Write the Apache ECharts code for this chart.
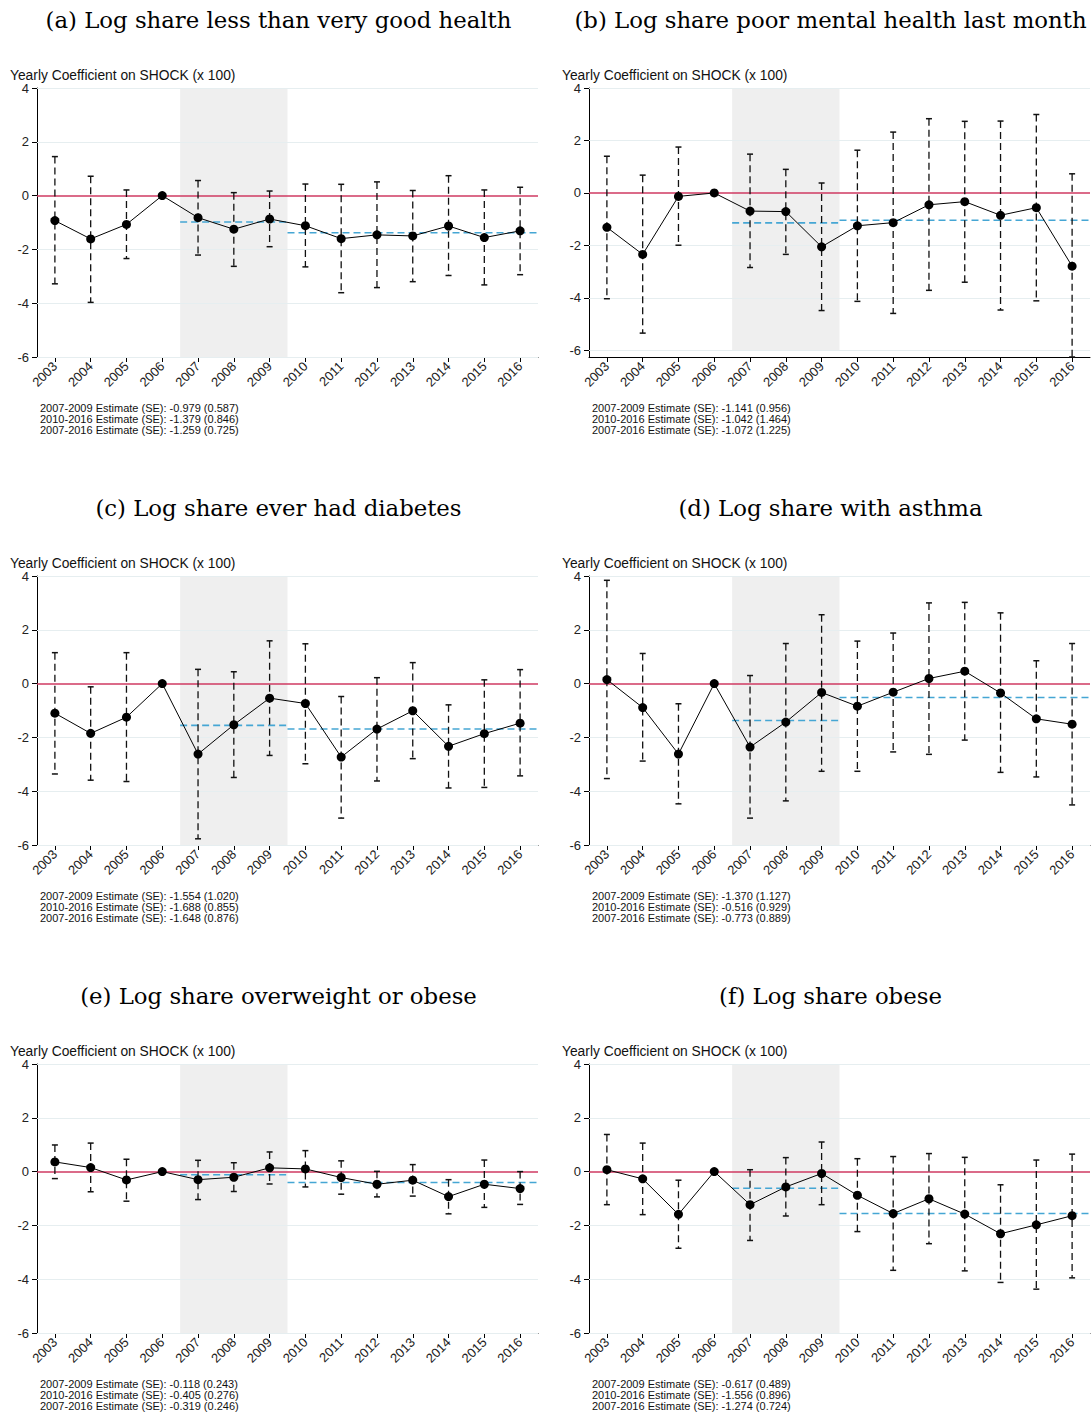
<!DOCTYPE html>
<html>
<head>
<meta charset="utf-8">
<script src="https://cdn.jsdelivr.net/npm/echarts@6/dist/echarts.min.js"></script>
<style>
  html, body { margin: 0; padding: 0; background: #fff; }
  #main { width: 1092px; height: 1427px; }
</style>
</head>
<body>
<div id="main"></div>
<script>
// years on the x axis
var years = [2003, 2004, 2005, 2006, 2007, 2008, 2009, 2010, 2011, 2012, 2013, 2014, 2015, 2016];
var yTicks = [-6, -4, -2, 0, 2, 4];

// (a) less than very good health
var coefA = [-0.93, -1.61, -1.07, 0, -0.82, -1.25, -0.87, -1.12, -1.60, -1.46, -1.50, -1.13, -1.56, -1.31];
var lowA  = [-3.28, -3.97, -2.34, null, -2.21, -2.63, -1.90, -2.65, -3.61, -3.42, -3.20, -2.97, -3.32, -2.94];
var highA = [1.45, 0.72, 0.21, null, 0.56, 0.11, 0.17, 0.43, 0.42, 0.51, 0.19, 0.74, 0.21, 0.31];
var periodA = [-0.979, -1.379];
var notesA = ['2007-2009 Estimate (SE): -0.979 (0.587)', '2010-2016 Estimate (SE): -1.379 (0.846)', '2007-2016 Estimate (SE): -1.259 (0.725)'];

// (b) poor mental health
var coefB = [-1.31, -2.34, -0.13, 0, -0.69, -0.71, -2.05, -1.25, -1.13, -0.45, -0.33, -0.85, -0.56, -2.79];
var lowB  = [-4.03, -5.34, -1.99, null, -2.84, -2.34, -4.48, -4.13, -4.59, -3.71, -3.40, -4.46, -4.11, -6.25];
var highB = [1.40, 0.68, 1.75, null, 1.48, 0.90, 0.38, 1.63, 2.32, 2.83, 2.73, 2.74, 2.99, 0.73];
var periodB = [-1.141, -1.042];
var notesB = ['2007-2009 Estimate (SE): -1.141 (0.956)', '2010-2016 Estimate (SE): -1.042 (1.464)', '2007-2016 Estimate (SE): -1.072 (1.225)'];

// (c) ever had diabetes
var coefC = [-1.10, -1.85, -1.25, 0, -2.62, -1.53, -0.54, -0.74, -2.73, -1.69, -1.01, -2.33, -1.86, -1.47];
var lowC  = [-3.36, -3.59, -3.64, null, -5.77, -3.49, -2.67, -2.98, -5.00, -3.62, -2.79, -3.88, -3.86, -3.43];
var highC = [1.15, -0.12, 1.15, null, 0.53, 0.44, 1.59, 1.48, -0.48, 0.22, 0.78, -0.79, 0.14, 0.52];
var periodC = [-1.554, -1.688];
var notesC = ['2007-2009 Estimate (SE): -1.554 (1.020)', '2010-2016 Estimate (SE): -1.688 (0.855)', '2007-2016 Estimate (SE): -1.648 (0.876)'];

// (d) asthma
var coefD = [0.15, -0.89, -2.62, 0, -2.36, -1.43, -0.33, -0.84, -0.32, 0.19, 0.46, -0.35, -1.31, -1.51];
var lowD  = [-3.53, -2.88, -4.47, null, -5.00, -4.36, -3.26, -3.26, -2.54, -2.63, -2.10, -3.30, -3.47, -4.51];
var highD = [3.84, 1.12, -0.75, null, 0.30, 1.49, 2.56, 1.58, 1.88, 3.00, 3.02, 2.63, 0.85, 1.49];
var periodD = [-1.370, -0.516];
var notesD = ['2007-2009 Estimate (SE): -1.370 (1.127)', '2010-2016 Estimate (SE): -0.516 (0.929)', '2007-2016 Estimate (SE): -0.773 (0.889)'];

// (e) overweight or obese
var coefE = [0.36, 0.15, -0.31, 0, -0.30, -0.21, 0.14, 0.10, -0.22, -0.47, -0.32, -0.93, -0.47, -0.63];
var lowE  = [-0.26, -0.75, -1.10, null, -1.04, -0.74, -0.46, -0.57, -0.84, -0.94, -0.91, -1.57, -1.33, -1.22];
var highE = [0.99, 1.06, 0.46, null, 0.42, 0.33, 0.73, 0.78, 0.40, 0.01, 0.26, -0.30, 0.43, 0.00];
var periodE = [-0.118, -0.405];
var notesE = ['2007-2009 Estimate (SE): -0.118 (0.243)', '2010-2016 Estimate (SE): -0.405 (0.276)', '2007-2016 Estimate (SE): -0.319 (0.246)'];

// (f) obese
var coefF = [0.07, -0.27, -1.59, 0, -1.23, -0.57, -0.07, -0.88, -1.56, -1.01, -1.58, -2.31, -1.98, -1.64];
var lowF  = [-1.23, -1.60, -2.85, null, -2.56, -1.65, -1.23, -2.23, -3.67, -2.68, -3.69, -4.12, -4.37, -3.95];
var highF = [1.38, 1.06, -0.32, null, 0.07, 0.52, 1.10, 0.48, 0.56, 0.67, 0.53, -0.49, 0.43, 0.65];
var periodF = [-0.617, -1.556];
var notesF = ['2007-2009 Estimate (SE): -0.617 (0.489)', '2010-2016 Estimate (SE): -1.556 (0.896)', '2007-2016 Estimate (SE): -1.274 (0.724)'];

var panels = [
  { title: '(a) Log share less than very good health', coef: coefA, low: lowA, high: highA, period: periodA, notes: notesA, ymin: -6 },
  { title: '(b) Log share poor mental health last month', coef: coefB, low: lowB, high: highB, period: periodB, notes: notesB, ymin: -6.25 },
  { title: '(c) Log share ever had diabetes', coef: coefC, low: lowC, high: highC, period: periodC, notes: notesC, ymin: -6 },
  { title: '(d) Log share with asthma', coef: coefD, low: lowD, high: highD, period: periodD, notes: notesD, ymin: -6 },
  { title: '(e) Log share overweight or obese', coef: coefE, low: lowE, high: highE, period: periodE, notes: notesE, ymin: -6 },
  { title: '(f) Log share obese', coef: coefF, low: lowF, high: highF, period: periodF, notes: notesF, ymin: -6 }
];

var SANS = '"Liberation Sans", Arial, sans-serif';
var SERIF = '"DejaVu Serif", serif';
var colLeft = [37, 589];
var rowTop = [88, 576, 1064];
var plotW = 501, plotH = 269;

function renderErrorBar(params, api) {
  var x = api.value(0), lo = api.value(1), hi = api.value(2);
  var top = api.coord([x, hi]);
  var bot = api.coord([x, lo]);
  var w = 3;
  var capStyle = { stroke: '#111', lineWidth: 1.5 };
  return {
    type: 'group',
    children: [
      { type: 'line', shape: { x1: top[0], y1: top[1], x2: bot[0], y2: bot[1] },
        style: { stroke: '#111', lineWidth: 1.3, lineDash: [7, 4] } },
      { type: 'line', shape: { x1: top[0] - w, y1: top[1], x2: top[0] + w, y2: top[1] }, style: capStyle },
      { type: 'line', shape: { x1: bot[0] - w, y1: bot[1], x2: bot[0] + w, y2: bot[1] }, style: capStyle }
    ]
  };
}

function plainLabel(v) { return String(v); }

var grids = [], xAxes = [], yAxes = [], series = [], graphics = [];

panels.forEach(function (p, i) {
  var col = i % 2, row = Math.floor(i / 2);
  var gl = colLeft[col], gt = rowTop[row];
  grids.push({ left: gl, top: gt, width: plotW, height: plotH });

  xAxes.push({
    gridIndex: i, type: 'value', min: 2002.5, max: 2016.5,
    axisLine: { onZero: false, lineStyle: { color: '#000', width: 1 } },
    axisTick: { customValues: years, length: 5, lineStyle: { color: '#000' } },
    axisLabel: { customValues: years, formatter: plainLabel, rotate: 45, margin: 7, fontSize: 13, color: '#222', fontFamily: SANS },
    splitLine: { show: false }
  });
  yAxes.push({
    gridIndex: i, type: 'value', min: p.ymin, max: 4,
    axisLine: { show: true, onZero: false, lineStyle: { color: '#000', width: 1 } },
    axisTick: { show: true, customValues: yTicks, length: 5, lineStyle: { color: '#000' } },
    axisLabel: { customValues: yTicks, formatter: plainLabel, margin: 8, fontSize: 13, color: '#222', fontFamily: SANS },
    splitLine: { show: false }
  });

  // light horizontal grid lines
  series.push({
    type: 'line', xAxisIndex: i, yAxisIndex: i, data: [], silent: true, z: 1,
    markLine: {
      symbol: 'none', silent: true, label: { show: false },
      lineStyle: { color: '#e6eef0', type: 'solid', width: 1 },
      data: yTicks.filter(function (v) { return v !== 0; }).map(function (v) { return { yAxis: v }; })
    }
  });
  // recession shading 2007-2009
  series.push({
    type: 'line', xAxisIndex: i, yAxisIndex: i, data: [], silent: true, z: 2,
    markArea: {
      silent: true, itemStyle: { color: '#efefef' },
      data: [[{ coord: [2006.5, 4] }, { coord: [2009.5, -6] }]]
    }
  });
  // zero reference line
  series.push({
    type: 'line', xAxisIndex: i, yAxisIndex: i, data: [], silent: true, z: 3,
    markLine: {
      symbol: 'none', silent: true, label: { show: false },
      lineStyle: { color: '#cf3a62', type: 'solid', width: 1.6 },
      data: [{ yAxis: 0 }]
    }
  });
  // pooled period estimates
  series.push({
    type: 'line', xAxisIndex: i, yAxisIndex: i, z: 4, symbol: 'none', silent: true,
    lineStyle: { color: '#45a6d4', width: 1.6, type: [7, 4] },
    data: [[2006.5, p.period[0]], [2009.5, p.period[0]]]
  });
  series.push({
    type: 'line', xAxisIndex: i, yAxisIndex: i, z: 4, symbol: 'none', silent: true,
    lineStyle: { color: '#45a6d4', width: 1.6, type: [7, 4] },
    data: [[2009.5, p.period[1]], [2016.5, p.period[1]]]
  });
  // confidence intervals
  var ciData = [];
  years.forEach(function (y, k) {
    if (p.low[k] !== null) ciData.push([y, p.low[k], p.high[k]]);
  });
  series.push({
    type: 'custom', xAxisIndex: i, yAxisIndex: i, z: 5, silent: true,
    renderItem: renderErrorBar, data: ciData, clip: false
  });
  // yearly coefficients
  series.push({
    type: 'line', xAxisIndex: i, yAxisIndex: i, z: 6, silent: true,
    symbol: 'circle', symbolSize: 9,
    itemStyle: { color: '#000' },
    lineStyle: { color: '#000', width: 1 },
    data: years.map(function (y, k) { return [y, p.coef[k]]; })
  });

  var cx = gl + plotW / 2 - 9;
  graphics.push({
    type: 'text', x: cx, y: gt - 68,
    style: { text: p.title, font: '22.8px ' + SERIF, fill: '#000', align: 'center', verticalAlign: 'middle' }
  });
  graphics.push({
    type: 'text', x: gl - 27, y: gt - 13,
    style: { text: 'Yearly Coefficient on SHOCK (x 100)', font: '13.8px ' + SANS, fill: '#111', align: 'left', verticalAlign: 'middle' }
  });
  graphics.push({
    type: 'text', x: gl + 3, y: gt + 314,
    style: { text: p.notes.join('\n'), font: '11px ' + SANS, lineHeight: 11, fill: '#111', align: 'left', verticalAlign: 'top' }
  });
});

var chart = echarts.init(document.getElementById('main'), null, { renderer: 'svg' });
chart.setOption({
  animation: false,
  backgroundColor: '#fff',
  grid: grids,
  xAxis: xAxes,
  yAxis: yAxes,
  series: series,
  graphic: graphics
});
</script>
</body>
</html>
